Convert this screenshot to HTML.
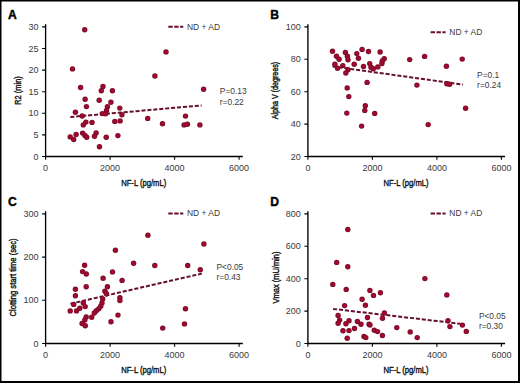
<!DOCTYPE html><html><head><meta charset="utf-8"><style>html,body{margin:0;padding:0;background:#fff;}svg{display:block;}text{font-family:"Liberation Sans",sans-serif;}</style></head><body>
<svg width="520" height="383" viewBox="0 0 520 383">
<defs><radialGradient id="dg"><stop offset="0" stop-color="#aa0933"/><stop offset="0.55" stop-color="#9a0a2e"/><stop offset="1" stop-color="#730823"/></radialGradient></defs>
<rect x="0" y="0" width="520" height="383" fill="#000"/>
<rect x="1.5" y="1.5" width="516.5" height="379.5" fill="#fff"/>
<g><text x="8" y="18.7" font-size="12.1" font-weight="bold" fill="#000" stroke="#000" stroke-width="0.4">A</text><path d="M45.6 24.3V156.5H242.8" fill="none" stroke="#000" stroke-width="1.35"/><text x="38.5" y="159.5" font-size="9" text-anchor="end" fill="#3a3a3a">0</text><text x="38.5" y="137.9" font-size="9" text-anchor="end" fill="#3a3a3a">5</text><text x="38.5" y="116.3" font-size="9" text-anchor="end" fill="#3a3a3a">10</text><text x="38.5" y="94.7" font-size="9" text-anchor="end" fill="#3a3a3a">15</text><text x="38.5" y="73.1" font-size="9" text-anchor="end" fill="#3a3a3a">20</text><text x="38.5" y="51.5" font-size="9" text-anchor="end" fill="#3a3a3a">25</text><text x="38.5" y="29.9" font-size="9" text-anchor="end" fill="#3a3a3a">30</text><text x="45.6" y="171" font-size="9" text-anchor="middle" fill="#3a3a3a">0</text><text x="110.1" y="171" font-size="9" text-anchor="middle" fill="#3a3a3a">2000</text><text x="174.6" y="171" font-size="9" text-anchor="middle" fill="#3a3a3a">4000</text><text x="239.1" y="171" font-size="9" text-anchor="middle" fill="#3a3a3a">6000</text><path d="M42.1 156.5H45.6M42.1 134.9H45.6M42.1 113.3H45.6M42.1 91.7H45.6M42.1 70.1H45.6M42.1 48.5H45.6M42.1 26.9H45.6M45.6 156.5V159.8M110.1 156.5V159.8M174.6 156.5V159.8M239.1 156.5V159.8" fill="none" stroke="#000" stroke-width="1.1"/><text x="121.2" y="185.5" font-size="9.8" textLength="45" lengthAdjust="spacingAndGlyphs" fill="#111" stroke="#111" stroke-width="0.4">NF-L (pg/mL)</text><text transform="translate(21.1 90.5) rotate(-90)" x="0" y="0" font-size="9.8" text-anchor="middle" textLength="28.5" lengthAdjust="spacingAndGlyphs" fill="#111" stroke="#111" stroke-width="0.4">R2 (min)</text><path d="M168.3 26.8H183.3" stroke="#66102f" stroke-width="2" stroke-dasharray="4.4 1.5"/><text x="187" y="29.6" font-size="8.5" textLength="33" lengthAdjust="spacingAndGlyphs" fill="#3a3a3a">ND + AD</text><text x="219.8" y="94.3" font-size="8.4" fill="#3a3a3a">P=0.13</text><text x="219.8" y="104.6" font-size="8.4" fill="#3a3a3a">r=0.22</text><path d="M70.3 117L201.6 105.4" stroke="#66102f" stroke-width="2" stroke-dasharray="4.1 1.85"/><circle cx="84.7" cy="29.8" r="2.7" fill="url(#dg)"/><circle cx="166" cy="51.9" r="2.7" fill="url(#dg)"/><circle cx="72.5" cy="68.9" r="2.7" fill="url(#dg)"/><circle cx="154.9" cy="76" r="2.7" fill="url(#dg)"/><circle cx="80.6" cy="87.5" r="2.7" fill="url(#dg)"/><circle cx="103" cy="86.5" r="2.7" fill="url(#dg)"/><circle cx="101.3" cy="90.7" r="2.7" fill="url(#dg)"/><circle cx="112.4" cy="90.7" r="2.7" fill="url(#dg)"/><circle cx="203.6" cy="89.3" r="2.7" fill="url(#dg)"/><circle cx="85.1" cy="99.2" r="2.7" fill="url(#dg)"/><circle cx="99.2" cy="100.3" r="2.7" fill="url(#dg)"/><circle cx="110.9" cy="102.3" r="2.7" fill="url(#dg)"/><circle cx="86.4" cy="106.6" r="2.7" fill="url(#dg)"/><circle cx="107.4" cy="106.8" r="2.7" fill="url(#dg)"/><circle cx="106.5" cy="110.5" r="2.7" fill="url(#dg)"/><circle cx="119.8" cy="108.1" r="2.7" fill="url(#dg)"/><circle cx="75.4" cy="112.3" r="2.7" fill="url(#dg)"/><circle cx="82.2" cy="116" r="2.7" fill="url(#dg)"/><circle cx="102.3" cy="113.6" r="2.7" fill="url(#dg)"/><circle cx="105.6" cy="113.8" r="2.7" fill="url(#dg)"/><circle cx="121.9" cy="114.7" r="2.7" fill="url(#dg)"/><circle cx="85.9" cy="122.1" r="2.7" fill="url(#dg)"/><circle cx="83.3" cy="124.9" r="2.7" fill="url(#dg)"/><circle cx="92" cy="122.4" r="2.7" fill="url(#dg)"/><circle cx="114.8" cy="121.4" r="2.7" fill="url(#dg)"/><circle cx="120.1" cy="120.9" r="2.7" fill="url(#dg)"/><circle cx="147.7" cy="118.4" r="2.7" fill="url(#dg)"/><circle cx="162.5" cy="123.8" r="2.7" fill="url(#dg)"/><circle cx="185.5" cy="116.1" r="2.7" fill="url(#dg)"/><circle cx="184.1" cy="124.9" r="2.7" fill="url(#dg)"/><circle cx="187.4" cy="124.3" r="2.7" fill="url(#dg)"/><circle cx="199.9" cy="124.9" r="2.7" fill="url(#dg)"/><circle cx="70.2" cy="136.9" r="2.7" fill="url(#dg)"/><circle cx="76.1" cy="134.5" r="2.7" fill="url(#dg)"/><circle cx="73.7" cy="139.5" r="2.7" fill="url(#dg)"/><circle cx="82.6" cy="133.1" r="2.7" fill="url(#dg)"/><circle cx="84.9" cy="135.4" r="2.7" fill="url(#dg)"/><circle cx="86.7" cy="137.3" r="2.7" fill="url(#dg)"/><circle cx="96.1" cy="133" r="2.7" fill="url(#dg)"/><circle cx="94.5" cy="136.3" r="2.7" fill="url(#dg)"/><circle cx="106.2" cy="137.3" r="2.7" fill="url(#dg)"/><circle cx="117.9" cy="135.6" r="2.7" fill="url(#dg)"/><circle cx="99.5" cy="146.8" r="2.7" fill="url(#dg)"/></g>
<g><text x="270.3" y="18.7" font-size="12.1" font-weight="bold" fill="#000" stroke="#000" stroke-width="0.4">B</text><path d="M307.9 24.3V156.5H505.1" fill="none" stroke="#000" stroke-width="1.35"/><text x="300.8" y="159.5" font-size="9" text-anchor="end" fill="#3a3a3a">20</text><text x="300.8" y="127.1" font-size="9" text-anchor="end" fill="#3a3a3a">40</text><text x="300.8" y="94.7" font-size="9" text-anchor="end" fill="#3a3a3a">60</text><text x="300.8" y="62.3" font-size="9" text-anchor="end" fill="#3a3a3a">80</text><text x="300.8" y="29.9" font-size="9" text-anchor="end" fill="#3a3a3a">100</text><text x="307.9" y="171" font-size="9" text-anchor="middle" fill="#3a3a3a">0</text><text x="372.4" y="171" font-size="9" text-anchor="middle" fill="#3a3a3a">2000</text><text x="436.9" y="171" font-size="9" text-anchor="middle" fill="#3a3a3a">4000</text><text x="501.4" y="171" font-size="9" text-anchor="middle" fill="#3a3a3a">6000</text><path d="M304.4 156.5H307.9M304.4 124.1H307.9M304.4 91.7H307.9M304.4 59.3H307.9M304.4 26.9H307.9M307.9 156.5V159.8M372.4 156.5V159.8M436.9 156.5V159.8M501.4 156.5V159.8" fill="none" stroke="#000" stroke-width="1.1"/><text x="383.5" y="185.5" font-size="9.8" textLength="45" lengthAdjust="spacingAndGlyphs" fill="#111" stroke="#111" stroke-width="0.4">NF-L (pg/mL)</text><text transform="translate(278.2 90.5) rotate(-90)" x="0" y="0" font-size="9.8" text-anchor="middle" textLength="57.5" lengthAdjust="spacingAndGlyphs" fill="#111" stroke="#111" stroke-width="0.4">Alpha V (degrees)</text><path d="M430.6 32.2H445.6" stroke="#66102f" stroke-width="2" stroke-dasharray="4.4 1.5"/><text x="449.3" y="35" font-size="8.5" textLength="33" lengthAdjust="spacingAndGlyphs" fill="#3a3a3a">ND + AD</text><text x="477.1" y="78.1" font-size="8.4" fill="#3a3a3a">P=0.1</text><text x="477.1" y="88.4" font-size="8.4" fill="#3a3a3a">r=0.24</text><path d="M332.5 66.4L463 84.6" stroke="#66102f" stroke-width="2" stroke-dasharray="4.1 1.85"/><circle cx="332.5" cy="51.3" r="2.7" fill="url(#dg)"/><circle cx="336.5" cy="56.2" r="2.7" fill="url(#dg)"/><circle cx="339.1" cy="59.3" r="2.7" fill="url(#dg)"/><circle cx="345.4" cy="52.5" r="2.7" fill="url(#dg)"/><circle cx="347.4" cy="56.2" r="2.7" fill="url(#dg)"/><circle cx="348" cy="59.8" r="2.7" fill="url(#dg)"/><circle cx="356.8" cy="53.6" r="2.7" fill="url(#dg)"/><circle cx="358.4" cy="58.3" r="2.7" fill="url(#dg)"/><circle cx="362.1" cy="49.4" r="2.7" fill="url(#dg)"/><circle cx="368.5" cy="51.5" r="2.7" fill="url(#dg)"/><circle cx="380.1" cy="52" r="2.7" fill="url(#dg)"/><circle cx="334.9" cy="64.3" r="2.7" fill="url(#dg)"/><circle cx="337.6" cy="68.2" r="2.7" fill="url(#dg)"/><circle cx="342.8" cy="65.6" r="2.7" fill="url(#dg)"/><circle cx="354.2" cy="64.2" r="2.7" fill="url(#dg)"/><circle cx="363.5" cy="66.4" r="2.7" fill="url(#dg)"/><circle cx="369.7" cy="63.6" r="2.7" fill="url(#dg)"/><circle cx="371" cy="67.2" r="2.7" fill="url(#dg)"/><circle cx="373.3" cy="68.7" r="2.7" fill="url(#dg)"/><circle cx="377.8" cy="66.9" r="2.7" fill="url(#dg)"/><circle cx="384.2" cy="58.8" r="2.7" fill="url(#dg)"/><circle cx="382.3" cy="60.9" r="2.7" fill="url(#dg)"/><circle cx="381.9" cy="63.5" r="2.7" fill="url(#dg)"/><circle cx="348" cy="69.8" r="2.7" fill="url(#dg)"/><circle cx="345.8" cy="73" r="2.7" fill="url(#dg)"/><circle cx="409.7" cy="59.6" r="2.7" fill="url(#dg)"/><circle cx="424.6" cy="56.4" r="2.7" fill="url(#dg)"/><circle cx="446.4" cy="66.3" r="2.7" fill="url(#dg)"/><circle cx="462.2" cy="59.1" r="2.7" fill="url(#dg)"/><circle cx="416.9" cy="85.1" r="2.7" fill="url(#dg)"/><circle cx="446.8" cy="83.8" r="2.7" fill="url(#dg)"/><circle cx="449.6" cy="84.2" r="2.7" fill="url(#dg)"/><circle cx="367.1" cy="82.4" r="2.7" fill="url(#dg)"/><circle cx="347.2" cy="87.9" r="2.7" fill="url(#dg)"/><circle cx="348.8" cy="96.6" r="2.7" fill="url(#dg)"/><circle cx="365.3" cy="105.7" r="2.7" fill="url(#dg)"/><circle cx="364.8" cy="110.4" r="2.7" fill="url(#dg)"/><circle cx="346.8" cy="113.1" r="2.7" fill="url(#dg)"/><circle cx="374.7" cy="113.4" r="2.7" fill="url(#dg)"/><circle cx="361.6" cy="126.1" r="2.7" fill="url(#dg)"/><circle cx="465.6" cy="108.2" r="2.7" fill="url(#dg)"/><circle cx="428.2" cy="124.6" r="2.7" fill="url(#dg)"/></g>
<g><text x="8" y="205.7" font-size="12.1" font-weight="bold" fill="#000" stroke="#000" stroke-width="0.4">C</text><path d="M45.6 211.3V343.5H242.8" fill="none" stroke="#000" stroke-width="1.35"/><text x="38.5" y="346.5" font-size="9" text-anchor="end" fill="#3a3a3a">0</text><text x="38.5" y="303.3" font-size="9" text-anchor="end" fill="#3a3a3a">100</text><text x="38.5" y="260.1" font-size="9" text-anchor="end" fill="#3a3a3a">200</text><text x="38.5" y="216.9" font-size="9" text-anchor="end" fill="#3a3a3a">300</text><text x="45.6" y="358" font-size="9" text-anchor="middle" fill="#3a3a3a">0</text><text x="110.1" y="358" font-size="9" text-anchor="middle" fill="#3a3a3a">2000</text><text x="174.6" y="358" font-size="9" text-anchor="middle" fill="#3a3a3a">4000</text><text x="239.1" y="358" font-size="9" text-anchor="middle" fill="#3a3a3a">6000</text><path d="M42.1 343.5H45.6M42.1 300.3H45.6M42.1 257.1H45.6M42.1 213.9H45.6M45.6 343.5V346.8M110.1 343.5V346.8M174.6 343.5V346.8M239.1 343.5V346.8" fill="none" stroke="#000" stroke-width="1.1"/><text x="121.2" y="372.5" font-size="9.8" textLength="45" lengthAdjust="spacingAndGlyphs" fill="#111" stroke="#111" stroke-width="0.4">NF-L (pg/mL)</text><text transform="translate(15.7 277.5) rotate(-90)" x="0" y="0" font-size="9.8" text-anchor="middle" textLength="78" lengthAdjust="spacingAndGlyphs" fill="#111" stroke="#111" stroke-width="0.4">Clotting start time (sec)</text><path d="M168.3 213.5H183.3" stroke="#66102f" stroke-width="2" stroke-dasharray="4.4 1.5"/><text x="187" y="216.3" font-size="8.5" textLength="33" lengthAdjust="spacingAndGlyphs" fill="#3a3a3a">ND + AD</text><text x="216.5" y="269.9" font-size="8.4" fill="#3a3a3a">P<0.05</text><text x="216.5" y="280.2" font-size="8.4" fill="#3a3a3a">r=0.43</text><path d="M70.5 303.7L201.8 273.6" stroke="#66102f" stroke-width="2" stroke-dasharray="4.1 1.85"/><circle cx="115.4" cy="250.2" r="2.7" fill="url(#dg)"/><circle cx="133.6" cy="263.2" r="2.7" fill="url(#dg)"/><circle cx="147.9" cy="235.3" r="2.7" fill="url(#dg)"/><circle cx="203.9" cy="244" r="2.7" fill="url(#dg)"/><circle cx="154.8" cy="265.5" r="2.7" fill="url(#dg)"/><circle cx="187.7" cy="265.5" r="2.7" fill="url(#dg)"/><circle cx="200.3" cy="269.8" r="2.7" fill="url(#dg)"/><circle cx="185.5" cy="308.7" r="2.7" fill="url(#dg)"/><circle cx="184.5" cy="323.9" r="2.7" fill="url(#dg)"/><circle cx="162.7" cy="328.1" r="2.7" fill="url(#dg)"/><circle cx="84.6" cy="265.2" r="2.7" fill="url(#dg)"/><circle cx="82.6" cy="271.6" r="2.7" fill="url(#dg)"/><circle cx="86.3" cy="274" r="2.7" fill="url(#dg)"/><circle cx="112.5" cy="271.9" r="2.7" fill="url(#dg)"/><circle cx="103.1" cy="278.3" r="2.7" fill="url(#dg)"/><circle cx="122.1" cy="280.4" r="2.7" fill="url(#dg)"/><circle cx="75.4" cy="289.2" r="2.7" fill="url(#dg)"/><circle cx="86.2" cy="286.7" r="2.7" fill="url(#dg)"/><circle cx="107.4" cy="286.8" r="2.7" fill="url(#dg)"/><circle cx="75.4" cy="295.8" r="2.7" fill="url(#dg)"/><circle cx="104.9" cy="291.2" r="2.7" fill="url(#dg)"/><circle cx="106.5" cy="293.8" r="2.7" fill="url(#dg)"/><circle cx="119.9" cy="297.8" r="2.7" fill="url(#dg)"/><circle cx="119.9" cy="300.6" r="2.7" fill="url(#dg)"/><circle cx="73.7" cy="304.4" r="2.7" fill="url(#dg)"/><circle cx="83.3" cy="303" r="2.7" fill="url(#dg)"/><circle cx="85.2" cy="306.6" r="2.7" fill="url(#dg)"/><circle cx="70.2" cy="310.9" r="2.7" fill="url(#dg)"/><circle cx="76.5" cy="310.9" r="2.7" fill="url(#dg)"/><circle cx="79.8" cy="308.3" r="2.7" fill="url(#dg)"/><circle cx="102.7" cy="298.9" r="2.7" fill="url(#dg)"/><circle cx="102" cy="302.9" r="2.7" fill="url(#dg)"/><circle cx="100.7" cy="306.2" r="2.7" fill="url(#dg)"/><circle cx="98.8" cy="308.8" r="2.7" fill="url(#dg)"/><circle cx="96.3" cy="310.8" r="2.7" fill="url(#dg)"/><circle cx="94.3" cy="313" r="2.7" fill="url(#dg)"/><circle cx="91.7" cy="317.2" r="2.7" fill="url(#dg)"/><circle cx="86.2" cy="317" r="2.7" fill="url(#dg)"/><circle cx="84.8" cy="320" r="2.7" fill="url(#dg)"/><circle cx="82.1" cy="323.5" r="2.7" fill="url(#dg)"/><circle cx="85.3" cy="325.7" r="2.7" fill="url(#dg)"/><circle cx="118" cy="315.1" r="2.7" fill="url(#dg)"/><circle cx="111" cy="321.7" r="2.7" fill="url(#dg)"/></g>
<g><text x="270.3" y="205.7" font-size="12.1" font-weight="bold" fill="#000" stroke="#000" stroke-width="0.4">D</text><path d="M307.9 211.3V343.5H505.1" fill="none" stroke="#000" stroke-width="1.35"/><text x="300.8" y="346.5" font-size="9" text-anchor="end" fill="#3a3a3a">0</text><text x="300.8" y="314.1" font-size="9" text-anchor="end" fill="#3a3a3a">200</text><text x="300.8" y="281.7" font-size="9" text-anchor="end" fill="#3a3a3a">400</text><text x="300.8" y="249.3" font-size="9" text-anchor="end" fill="#3a3a3a">600</text><text x="300.8" y="216.9" font-size="9" text-anchor="end" fill="#3a3a3a">800</text><text x="307.9" y="358" font-size="9" text-anchor="middle" fill="#3a3a3a">0</text><text x="372.4" y="358" font-size="9" text-anchor="middle" fill="#3a3a3a">2000</text><text x="436.9" y="358" font-size="9" text-anchor="middle" fill="#3a3a3a">4000</text><text x="501.4" y="358" font-size="9" text-anchor="middle" fill="#3a3a3a">6000</text><path d="M304.4 343.5H307.9M304.4 311.1H307.9M304.4 278.7H307.9M304.4 246.3H307.9M304.4 213.9H307.9M307.9 343.5V346.8M372.4 343.5V346.8M436.9 343.5V346.8M501.4 343.5V346.8" fill="none" stroke="#000" stroke-width="1.1"/><text x="383.5" y="372.5" font-size="9.8" textLength="45" lengthAdjust="spacingAndGlyphs" fill="#111" stroke="#111" stroke-width="0.4">NF-L (pg/mL)</text><text transform="translate(278.8 277.5) rotate(-90)" x="0" y="0" font-size="9.8" text-anchor="middle" textLength="52" lengthAdjust="spacingAndGlyphs" fill="#111" stroke="#111" stroke-width="0.4">Vmax (mU/min)</text><path d="M430.6 213.5H445.6" stroke="#66102f" stroke-width="2" stroke-dasharray="4.4 1.5"/><text x="449.3" y="216.3" font-size="8.5" textLength="33" lengthAdjust="spacingAndGlyphs" fill="#3a3a3a">ND + AD</text><text x="478.9" y="318.7" font-size="8.4" fill="#3a3a3a">P<0.05</text><text x="478.9" y="329" font-size="8.4" fill="#3a3a3a">r=0.30</text><path d="M333.1 308.9L463.2 324.1" stroke="#66102f" stroke-width="2" stroke-dasharray="4.1 1.85"/><circle cx="347.8" cy="229.5" r="2.7" fill="url(#dg)"/><circle cx="336.7" cy="262.4" r="2.7" fill="url(#dg)"/><circle cx="347.8" cy="266.7" r="2.7" fill="url(#dg)"/><circle cx="332.8" cy="284.4" r="2.7" fill="url(#dg)"/><circle cx="346.2" cy="289.4" r="2.7" fill="url(#dg)"/><circle cx="344.6" cy="305.6" r="2.7" fill="url(#dg)"/><circle cx="338.1" cy="315.4" r="2.7" fill="url(#dg)"/><circle cx="339.6" cy="320.1" r="2.7" fill="url(#dg)"/><circle cx="338.1" cy="323.3" r="2.7" fill="url(#dg)"/><circle cx="349" cy="320.7" r="2.7" fill="url(#dg)"/><circle cx="345.9" cy="323.8" r="2.7" fill="url(#dg)"/><circle cx="357.4" cy="321.5" r="2.7" fill="url(#dg)"/><circle cx="361" cy="324.3" r="2.7" fill="url(#dg)"/><circle cx="343" cy="330.8" r="2.7" fill="url(#dg)"/><circle cx="349" cy="330.6" r="2.7" fill="url(#dg)"/><circle cx="354.5" cy="328.5" r="2.7" fill="url(#dg)"/><circle cx="347.2" cy="338.2" r="2.7" fill="url(#dg)"/><circle cx="369.9" cy="290.4" r="2.7" fill="url(#dg)"/><circle cx="373.5" cy="295.4" r="2.7" fill="url(#dg)"/><circle cx="380.4" cy="292.7" r="2.7" fill="url(#dg)"/><circle cx="362.1" cy="299.3" r="2.7" fill="url(#dg)"/><circle cx="365.4" cy="305.3" r="2.7" fill="url(#dg)"/><circle cx="384.4" cy="313" r="2.7" fill="url(#dg)"/><circle cx="382.5" cy="318.2" r="2.7" fill="url(#dg)"/><circle cx="367.5" cy="317.5" r="2.7" fill="url(#dg)"/><circle cx="369.1" cy="324.3" r="2.7" fill="url(#dg)"/><circle cx="374.3" cy="330.3" r="2.7" fill="url(#dg)"/><circle cx="377.5" cy="331.6" r="2.7" fill="url(#dg)"/><circle cx="382.4" cy="335.5" r="2.7" fill="url(#dg)"/><circle cx="364" cy="336.5" r="2.7" fill="url(#dg)"/><circle cx="365.8" cy="337.6" r="2.7" fill="url(#dg)"/><circle cx="370" cy="325" r="2.7" fill="url(#dg)"/><circle cx="424.9" cy="278.6" r="2.7" fill="url(#dg)"/><circle cx="446.8" cy="294.9" r="2.7" fill="url(#dg)"/><circle cx="396.8" cy="327.6" r="2.7" fill="url(#dg)"/><circle cx="410.2" cy="331.9" r="2.7" fill="url(#dg)"/><circle cx="417.2" cy="337.6" r="2.7" fill="url(#dg)"/><circle cx="448" cy="320.8" r="2.7" fill="url(#dg)"/><circle cx="449.9" cy="326.6" r="2.7" fill="url(#dg)"/><circle cx="462.4" cy="325.1" r="2.7" fill="url(#dg)"/><circle cx="466.3" cy="331.4" r="2.7" fill="url(#dg)"/></g>
</svg></body></html>
